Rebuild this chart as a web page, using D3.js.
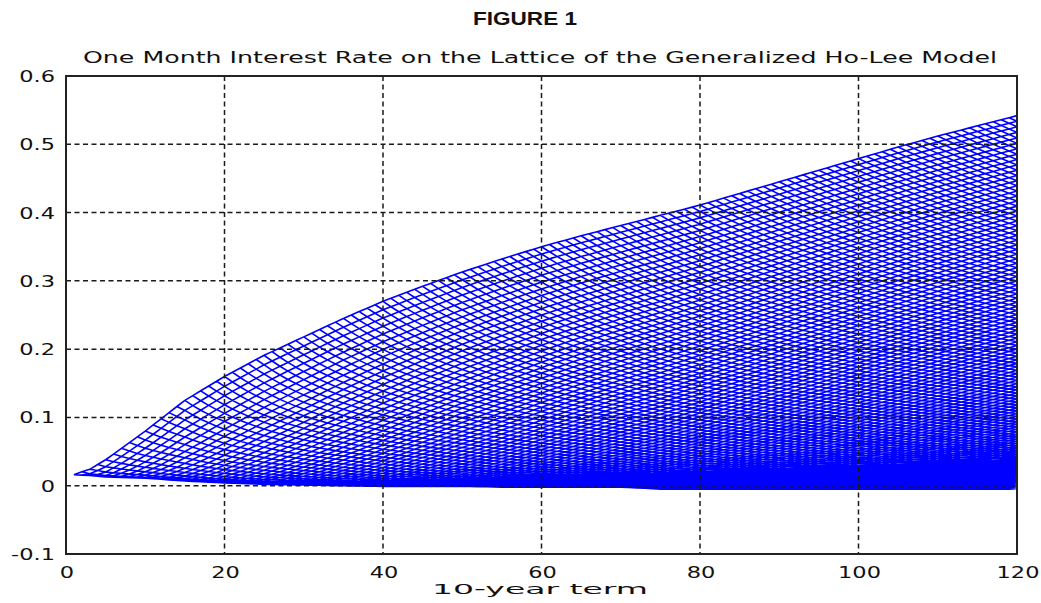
<!DOCTYPE html>
<html>
<head>
<meta charset="utf-8">
<script src="https://cdn.jsdelivr.net/npm/d3@7"></script>
<style>
  body { margin: 0; background: #fff; }
  svg { display: block; }
  .tick-label { font-family: "DejaVu Sans", sans-serif; font-size: 15px; fill: #111; }
</style>
</head>
<body>
<div id="chart-container"></div>
<script>
// envelope of the lattice, by month
var months    = [1, 3, 5, 10, 15, 20, 25, 30, 35, 40, 45, 50, 55, 60, 65, 70, 75, 80, 85, 90, 95, 100, 105, 110, 115, 120];
var upperRate = [0.017, 0.024, 0.038, 0.080, 0.125, 0.160, 0.191, 0.218, 0.245, 0.270, 0.292, 0.313, 0.332, 0.350, 0.366, 0.381, 0.396, 0.411, 0.428, 0.445, 0.462, 0.479, 0.496, 0.512, 0.527, 0.542];
var lowerRate = [0.016, 0.015, 0.013, 0.011, 0.007, 0.004, 0.002, 0.001, 0.000, -0.001, -0.001, -0.001, -0.002, -0.002, -0.002, -0.002, -0.005, -0.005, -0.005, -0.005, -0.005, -0.005, -0.005, -0.005, -0.005, -0.005];
var nodeSkew = 1.8; // nodes bunch up near the lower edge

var xTicks = [0, 20, 40, 60, 80, 100, 120];
var yTicks = [-0.1, 0, 0.1, 0.2, 0.3, 0.4, 0.5, 0.6];
var yTickLabels = ["-0.1", "0", "0.1", "0.2", "0.3", "0.4", "0.5", "0.6"];

var width = 1041, height = 603;
var margin = {top: 76, right: 24, bottom: 49, left: 66};
var stretch = 1.5; // the old plot font is drawn wide

var svg = d3.select("#chart-container")
    .append("svg")
    .attr("width", width)
    .attr("height", height);

var x = d3.scaleLinear().domain([0, 120]).range([margin.left, width - margin.right]);
var y = d3.scaleLinear().domain([-0.1, 0.6]).range([height - margin.bottom, margin.top]);

var upperAt = d3.scaleLinear().domain(months).range(upperRate);
var lowerAt = d3.scaleLinear().domain(months).range(lowerRate);

//rate of node i at step t (t nodes at step t)
function nodeRate(t, i)
{
    var u = t === 1 ? 0 : i / (t - 1);
    var lo = lowerAt(t), hi = upperAt(t);
    return lo + (hi - lo) * Math.pow(u, nodeSkew);
}

// plot background
svg.append("rect")
    .attr("x", x(0)).attr("y", y(0.6))
    .attr("width", x(120) - x(0)).attr("height", y(-0.1) - y(0.6))
    .style("fill", "#fff");

// lattice: each node joins its two children
var p = d3.path();
for (var t = 1; t < 120; t++)
{
    for (var i = 0; i < t; i++)
    {
        var r0 = nodeRate(t, i);
        p.moveTo(x(t), y(r0));
        p.lineTo(x(t + 1), y(nodeRate(t + 1, i)));
        p.moveTo(x(t), y(r0));
        p.lineTo(x(t + 1), y(nodeRate(t + 1, i + 1)));
    }
}
svg.append("path")
    .attr("d", p.toString())
    .style("fill", "none")
    .style("stroke", "#0000ff")
    .style("stroke-width", 1.6);

// dashed grid on top
var grid = svg.append("g")
    .style("stroke", "#1a1a1a")
    .style("stroke-width", 1.5)
    .style("stroke-dasharray", "5,3.5");

grid.selectAll(".vgrid")
    .data(xTicks.slice(1, -1))
    .enter()
    .append("line")
    .attr("x1", function(d) { return x(d); })
    .attr("x2", function(d) { return x(d); })
    .attr("y1", y(0.6))
    .attr("y2", y(-0.1));

grid.selectAll(".hgrid")
    .data(yTicks.slice(1, -1))
    .enter()
    .append("line")
    .attr("x1", x(0))
    .attr("x2", x(120))
    .attr("y1", function(d) { return y(d); })
    .attr("y2", function(d) { return y(d); });

// frame
svg.append("rect")
    .attr("x", x(0)).attr("y", y(0.6))
    .attr("width", x(120) - x(0)).attr("height", y(-0.1) - y(0.6))
    .style("fill", "none")
    .style("stroke", "#222")
    .style("stroke-width", 2);

// tick labels, stretched sideways
svg.selectAll(".xlab")
    .data(xTicks)
    .enter()
    .append("text")
    .attr("class", "tick-label")
    .attr("transform", function(d) { return "translate(" + (x(d) + 1) + ",578) scale(" + stretch + ",1)"; })
    .attr("text-anchor", "middle")
    .text(function(d) { return d; });

svg.selectAll(".ylab")
    .data(yTicks)
    .enter()
    .append("text")
    .attr("class", "tick-label")
    .attr("transform", function(d) { return "translate(55," + (y(d) + 6) + ") scale(" + stretch + ",1)"; })
    .attr("text-anchor", "end")
    .text(function(d, i) { return yTickLabels[i]; });

// titles
svg.append("text")
    .attr("x", 473)
    .attr("y", 25)
    .attr("textLength", 104)
    .attr("lengthAdjust", "spacingAndGlyphs")
    .style("font-family", "'Liberation Sans', Arial, sans-serif")
    .style("font-weight", "bold")
    .style("font-size", "18px")
    .style("fill", "#111")
    .text("FIGURE 1");

svg.append("text")
    .attr("x", 83)
    .attr("y", 63)
    .attr("class", "tick-label")
    .attr("textLength", 914)
    .attr("lengthAdjust", "spacingAndGlyphs")
    .text("One Month Interest Rate on the Lattice of the Generalized Ho-Lee Model");

svg.append("text")
    .attr("x", 432)
    .attr("y", 594)
    .attr("class", "tick-label")
    .style("font-size", "14px")
    .attr("textLength", 216)
    .attr("lengthAdjust", "spacingAndGlyphs")
    .text("10-year term");
</script>
</body>
</html>
